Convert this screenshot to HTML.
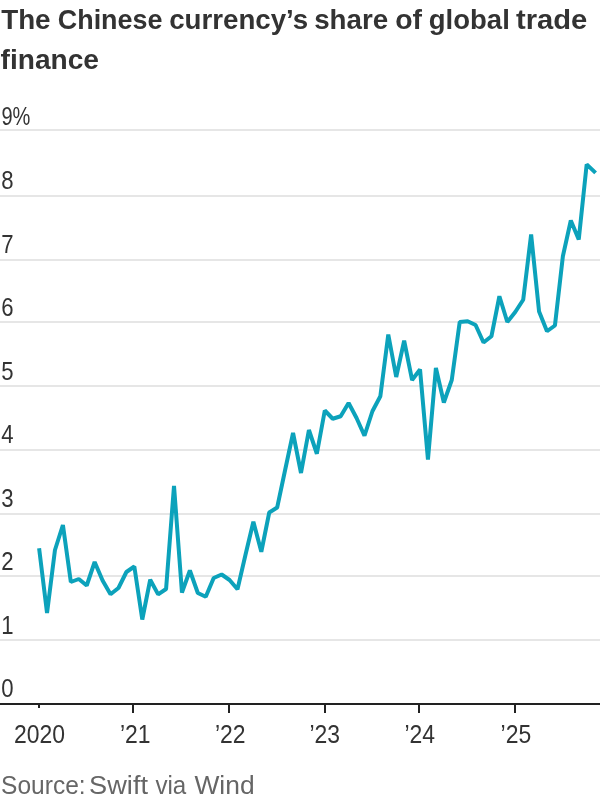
<!DOCTYPE html>
<html lang="en"><head><meta charset="utf-8"><title>The Chinese currency’s share of global trade finance</title>
<style>
html,body{margin:0;padding:0;background:#fff}
body{width:600px;height:800px;overflow:hidden}
svg{display:block}
text{font-family:"Liberation Sans",Arial,sans-serif}
.t{font-weight:bold;font-size:27px;fill:#333}
.a{font-size:26.2px;fill:#333}
.s{font-size:26px;fill:#666}
</style></head><body>
<svg width="600" height="800" viewBox="0 0 600 800">
<rect width="600" height="800" fill="#fff"/>
<text class="t" y="28.9"><tspan x="1.2" textLength="49.4" lengthAdjust="spacingAndGlyphs">The</tspan> <tspan x="57.8" textLength="104.6" lengthAdjust="spacingAndGlyphs">Chinese</tspan> <tspan x="169.2" textLength="139.0" lengthAdjust="spacingAndGlyphs">currency’s</tspan> <tspan x="314.2" textLength="74.0" lengthAdjust="spacingAndGlyphs">share</tspan> <tspan x="395.2" textLength="26.8" lengthAdjust="spacingAndGlyphs">of</tspan> <tspan x="428.8" textLength="81.0" lengthAdjust="spacingAndGlyphs">global</tspan> <tspan x="516.0" textLength="71.3" lengthAdjust="spacingAndGlyphs">trade</tspan></text>
<text class="t" y="68.9"><tspan x="0.6" textLength="98.4" lengthAdjust="spacingAndGlyphs">finance</tspan></text>
<rect x="0" y="129" width="600" height="2" fill="#e6e6e6"/>
<rect x="0" y="195" width="600" height="2" fill="#e6e6e6"/>
<rect x="0" y="259" width="600" height="2" fill="#e6e6e6"/>
<rect x="0" y="321" width="600" height="2" fill="#e6e6e6"/>
<rect x="0" y="385" width="600" height="2" fill="#e6e6e6"/>
<rect x="0" y="449" width="600" height="2" fill="#e6e6e6"/>
<rect x="0" y="513" width="600" height="2" fill="#e6e6e6"/>
<rect x="0" y="575" width="600" height="2" fill="#e6e6e6"/>
<rect x="0" y="639" width="600" height="2" fill="#e6e6e6"/>
<text class="a" transform="translate(1.4,125.0) scale(0.765,1)">9%</text>
<text class="a" transform="translate(1.2,189.0) scale(0.845,1)">8</text>
<text class="a" transform="translate(1.2,252.5) scale(0.845,1)">7</text>
<text class="a" transform="translate(1.2,316.0) scale(0.845,1)">6</text>
<text class="a" transform="translate(1.2,379.5) scale(0.845,1)">5</text>
<text class="a" transform="translate(1.2,443.0) scale(0.845,1)">4</text>
<text class="a" transform="translate(1.2,506.5) scale(0.845,1)">3</text>
<text class="a" transform="translate(1.2,570.0) scale(0.845,1)">2</text>
<text class="a" transform="translate(1.2,633.5) scale(0.845,1)">1</text>
<text class="a" transform="translate(1.2,697.0) scale(0.845,1)">0</text>
<rect x="0" y="703" width="600" height="2" fill="#222"/>
<rect x="38" y="705" width="2" height="3" fill="#222"/>
<text class="a" text-anchor="middle" transform="translate(39.4,742.6) scale(0.875,1)">2020</text>
<rect x="132" y="705" width="2" height="8" fill="#222"/>
<text class="a" text-anchor="middle" transform="translate(135.3,742.6) scale(0.875,1)">’21</text>
<rect x="228" y="705" width="2" height="8" fill="#222"/>
<text class="a" text-anchor="middle" transform="translate(230.3,742.6) scale(0.875,1)">’22</text>
<rect x="324" y="705" width="2" height="8" fill="#222"/>
<text class="a" text-anchor="middle" transform="translate(324.8,742.6) scale(0.875,1)">’23</text>
<rect x="418" y="705" width="2" height="8" fill="#222"/>
<text class="a" text-anchor="middle" transform="translate(419.8,742.6) scale(0.875,1)">’24</text>
<rect x="514" y="705" width="2" height="8" fill="#222"/>
<text class="a" text-anchor="middle" transform="translate(515.9,742.6) scale(0.875,1)">’25</text>
<path d="M39.10,548.25 L47.04,613.00 L54.97,550.00 L62.91,525.00 L70.84,582.00 L78.78,579.00 L86.72,585.50 L94.65,562.00 L102.59,580.50 L110.52,594.30 L118.46,588.00 L126.40,572.00 L134.33,566.50 L142.27,619.50 L150.20,579.75 L158.14,594.40 L166.08,589.00 L174.01,485.80 L181.95,592.50 L189.88,570.50 L197.82,593.00 L205.76,596.75 L213.69,578.00 L221.63,574.50 L229.56,580.00 L237.50,589.25 L245.44,555.00 L253.37,521.75 L261.31,551.75 L269.24,512.50 L277.18,507.50 L285.12,470.00 L293.05,433.00 L300.99,473.00 L308.92,430.00 L316.86,453.75 L324.80,410.50 L332.73,418.75 L340.67,416.25 L348.60,403.00 L356.54,418.00 L364.48,435.75 L372.41,411.25 L380.35,396.25 L388.28,334.50 L396.22,377.00 L404.16,340.75 L412.09,380.00 L420.03,369.50 L427.96,459.50 L435.90,368.00 L443.84,402.50 L451.77,380.00 L459.71,322.00 L467.64,321.25 L475.58,325.00 L483.52,342.50 L491.45,336.25 L499.39,296.25 L507.32,322.00 L515.26,312.00 L523.20,299.75 L531.13,234.50 L539.07,311.60 L547.00,331.25 L554.94,325.50 L562.88,256.25 L570.81,220.50 L578.75,239.50 L586.68,164.40 L595.60,172.90" fill="none" stroke="#0ca2bb" stroke-width="4" stroke-linejoin="bevel" stroke-linecap="butt"/>
<text class="s" y="793.8"><tspan x="1.1" textLength="84.5" lengthAdjust="spacingAndGlyphs">Source:</tspan> <tspan x="89.1" textLength="58.9" lengthAdjust="spacingAndGlyphs">Swift</tspan> <tspan x="155.4" textLength="30.9" lengthAdjust="spacingAndGlyphs">via</tspan> <tspan x="194.4" textLength="60.2" lengthAdjust="spacingAndGlyphs">Wind</tspan></text>
</svg></body></html>
